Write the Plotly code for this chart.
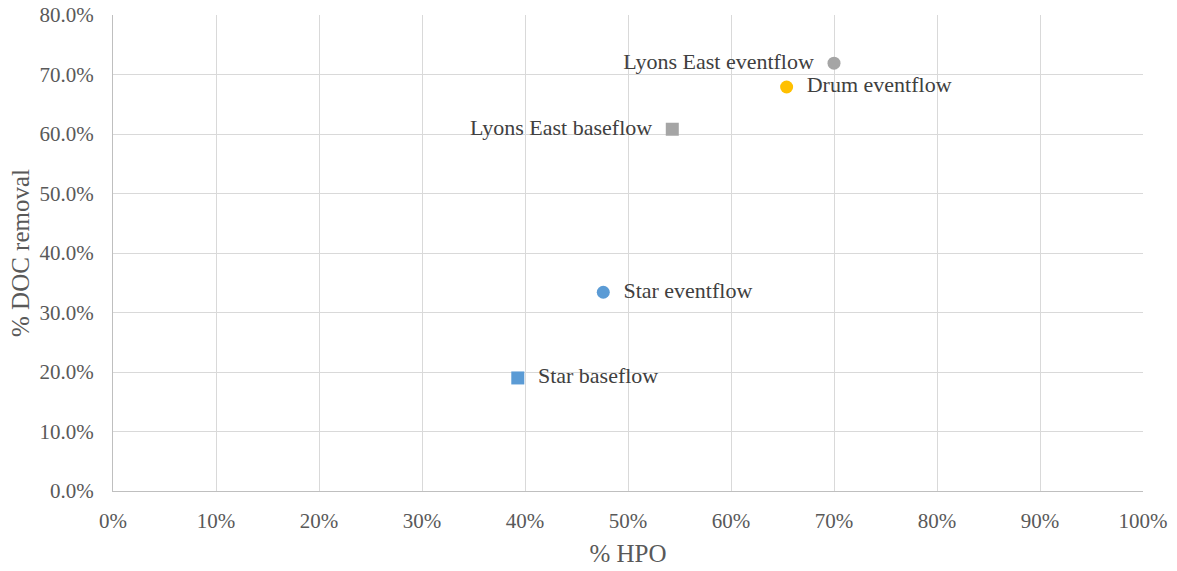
import plotly.graph_objects as go

# Share of hydrophobic organic acids (HPO) vs. DOC removal for each sample
samples = ["Lyons East eventflow", "Drum eventflow", "Lyons East baseflow",
           "Star eventflow", "Star baseflow"]
hpo = [0.700, 0.654, 0.543, 0.476, 0.393]
doc_removal = [0.719, 0.679, 0.608, 0.334, 0.190]
symbols = ["circle", "circle", "square", "circle", "square"]
colors = ["#A5A5A5", "#FFC000", "#A5A5A5", "#5B9BD5", "#5B9BD5"]
label_side = ["middle left", "middle right", "middle left", "middle right", "middle right"]

x_ticks = [i / 10 for i in range(11)]
y_ticks = [i / 10 for i in range(9)]

FONT = "Liberation Serif"
TEXT_GREY = "#595959"

fig = go.Figure()
for name, x, y, sym, col, side in zip(samples, hpo, doc_removal, symbols, colors, label_side):
    fig.add_trace(go.Scatter(
        x=[x], y=[y], mode="markers+text",
        marker=dict(symbol=sym, size=13, color=col),
        text=["  " + name + "  "], textposition=side,
        textfont=dict(family=FONT, size=22, color="#404040"),
        name=name, showlegend=False, cliponaxis=False,
    ))

axis_common = dict(
    showgrid=True, gridcolor="#D9D9D9", gridwidth=1,
    showline=True, linecolor="#BFBFBF", linewidth=1,
    zeroline=False, ticks="", automargin=False,
    tickfont=dict(family=FONT, size=21, color=TEXT_GREY),
    title_font=dict(family=FONT, size=25, color=TEXT_GREY),
)

fig.update_xaxes(range=[0, 1], tickvals=x_ticks, tickformat=".0%",
                 ticklabelstandoff=11,
                 title_text="% HPO", title_standoff=12, **axis_common)
fig.update_yaxes(range=[0, 0.8], tickvals=y_ticks, tickformat=".1%",
                 ticklabelstandoff=14,
                 title_text="% DOC removal", title_standoff=2, **axis_common)

fig.update_layout(
    width=1177, height=571,
    margin=dict(l=113, r=34, t=15, b=80),
    plot_bgcolor="white", paper_bgcolor="white",
)

fig.write_html("out.html")
